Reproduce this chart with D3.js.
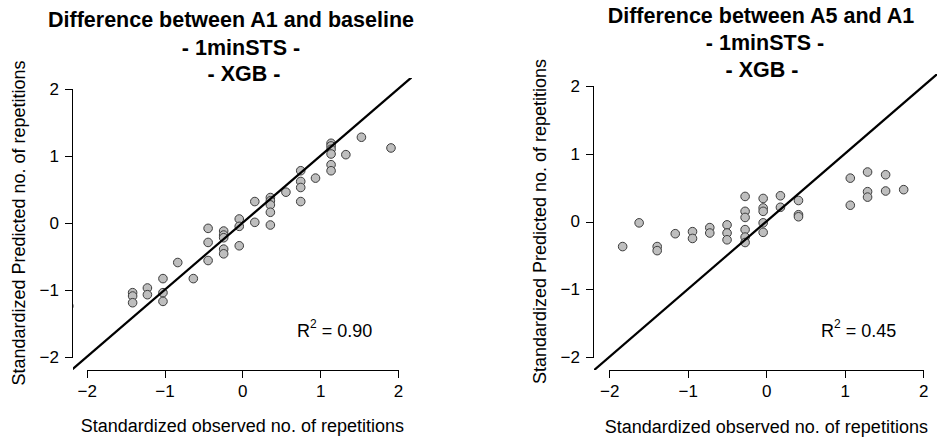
<!DOCTYPE html>
<meta charset="utf-8">
<style type="text/css">
  body {
    margin: 0;
    background: #fff;
    font-family: "Liberation Sans", Arial, sans-serif;
  }
  .axis path, .axis line {
    stroke: #000;
    stroke-width: 1px;
    shape-rendering: crispEdges;
  }
  .axis text {
    font-family: "Liberation Sans", Arial, sans-serif;
    font-size: 17px;
    fill: #000;
  }
</style>
<body>
</body>
<script src="https://cdn.jsdelivr.net/npm/d3@7"></script>
<script>
  // tick values shared by both panels
  var xTicks = [-2, -1, 0, 1, 2];
  var yTicks = [-2, -1, 0, 1, 2];

  // left panel: A1 vs baseline
  var leftTitle = ["Difference between A1 and baseline", "- 1minSTS -", "- XGB -"];
  var leftR2 = "0.90";
  var leftObs = [-1.41, -1.41, -1.41, -1.22, -1.22, -1.02, -1.02, -1.02, -0.83, -0.63,
    -0.44, -0.44, -0.44, -0.24, -0.24, -0.24, -0.24, -0.24, -0.04, -0.04,
    -0.04, 0.16, 0.16, 0.36, 0.36, 0.36, 0.36, 0.36, 0.56, 0.75,
    0.75, 0.75, 0.75, 0.94, 1.14, 1.14, 1.14, 1.14, 1.14, 1.14,
    1.33, 1.53, 1.91, -2.23];
  var leftPred = [-1.04, -1.09, -1.19, -0.97, -1.07, -0.83, -1.04, -1.17, -0.59, -0.83,
    -0.08, -0.29, -0.56, -0.12, -0.18, -0.22, -0.39, -0.46, 0.06, -0.05,
    -0.34, 0.32, 0.01, 0.38, 0.33, 0.27, 0.16, -0.03, 0.46, 0.78,
    0.62, 0.53, 0.32, 0.67, 1.19, 1.15, 1.10, 1.03, 0.87, 0.78,
    1.02, 1.28, 1.12, -1.24];

  // right panel: A5 vs A1
  var rightTitle = ["Difference between A5 and A1", "- 1minSTS -", "- XGB -"];
  var rightR2 = "0.45";
  var rightObs = [-1.83, -1.62, -1.39, -1.39, -1.16, -0.94, -0.94, -0.72, -0.72, -0.50,
    -0.50, -0.50, -0.27, -0.27, -0.27, -0.27, -0.27, -0.27, -0.04, -0.04,
    -0.04, -0.04, -0.04, 0.18, 0.18, 0.41, 0.41, 0.41, 1.07, 1.07,
    1.29, 1.29, 1.29, 1.52, 1.52, 1.75];
  var rightPred = [-0.37, -0.02, -0.37, -0.43, -0.18, -0.15, -0.25, -0.09, -0.17, -0.05,
    -0.17, -0.27, 0.37, 0.15, 0.06, -0.12, -0.23, -0.31, 0.34, 0.20,
    0.15, -0.02, -0.16, 0.38, 0.21, 0.31, 0.10, 0.07, 0.64, 0.24,
    0.73, 0.44, 0.36, 0.69, 0.45, 0.47];

  var xLabel = "Standardized observed no. of repetitions";
  var yLabel = "Standardized Predicted no. of repetitions";

  // layout of each panel (pixels)
  var panels = [{
      id: "left", title: leftTitle, r2: leftR2, obs: leftObs, pred: leftPred,
      xr: [86.7, 398], yr: [357, 89],
      region: { x0: 73, x1: 412, y0: 78, y1: 370 },
      titleX: [231, 241, 244], titleY: [27, 55, 81],
      ylabX: 25, xlabY: 432, r2X: 297, r2Y: 337
    },
    {
      id: "right", title: rightTitle, r2: rightR2, obs: rightObs, pred: rightPred,
      xr: [609.3, 923.3], yr: [357, 86],
      region: { x0: 594, x1: 937, y0: 74, y1: 370 },
      titleX: [761, 765, 762], titleY: [23, 50, 77],
      ylabX: 546, xlabY: 433, r2X: 821, r2Y: 337
    }
  ];

  var svg = d3.select("body")
    .append("svg")
    .attr("width", 937)
    .attr("height", 443);

  var defs = svg.append("defs");

  panels.forEach(function(p) {
    var x = d3.scaleLinear().domain([-2, 2]).range(p.xr);
    var y = d3.scaleLinear().domain([-2, 2]).range(p.yr);
    var r = p.region;

    defs.append("clipPath")
      .attr("id", "clip-" + p.id)
      .append("rect")
      .attr("x", r.x0)
      .attr("y", r.y0)
      .attr("width", r.x1 - r.x0)
      .attr("height", r.y1 - r.y0);

    var g = svg.append("g");

    // title, three lines
    g.selectAll(".title")
      .data(p.title)
      .enter().append("text")
      .attr("class", "title")
      .attr("x", function(d, i) { return p.titleX[i]; })
      .attr("y", function(d, i) { return p.titleY[i]; })
      .attr("text-anchor", "middle")
      .style("font-size", "21.5px")
      .style("font-weight", "bold")
      .text(function(d) { return d; });

    // axes
    g.append("g")
      .attr("class", "axis")
      .attr("transform", "translate(0," + r.y1 + ")")
      .call(d3.axisBottom(x).tickValues(xTicks).tickSize(8).tickSizeOuter(0).tickPadding(7)
        .tickFormat(d3.format("d")))
      .select(".domain").attr("d", "M" + x(-2) + ",0.5H" + x(2));

    g.append("g")
      .attr("class", "axis")
      .attr("transform", "translate(" + r.x0 + ",0)")
      .call(d3.axisLeft(y).tickValues(yTicks).tickSize(8).tickSizeOuter(0).tickPadding(6)
        .tickFormat(d3.format("d")))
      .select(".domain").attr("d", "M-0.5," + y(-2) + "V" + y(2));

    // axis labels
    g.append("text")
      .attr("x", (x(-2) + x(2)) / 2)
      .attr("y", p.xlabY)
      .attr("text-anchor", "middle")
      .style("font-size", "18px")
      .text(xLabel);

    g.append("text")
      .attr("transform", "translate(" + p.ylabX + "," + (y(0)) + ") rotate(-90)")
      .attr("text-anchor", "middle")
      .style("font-size", "18px")
      .text(yLabel);

    // plot content clipped to plot region
    var plot = g.append("g").attr("clip-path", "url(#clip-" + p.id + ")");

    var pts = p.obs.map(function(o, i) { return { o: o, p: p.pred[i] }; });

    plot.selectAll("circle")
      .data(pts)
      .enter().append("circle")
      .attr("cx", function(d) { return x(d.o); })
      .attr("cy", function(d) { return y(d.p); })
      .attr("r", 4.3)
      .style("fill", "#bebebe")
      .style("stroke", "#3c3c3c")
      .style("stroke-width", 1);

    // identity line y = x
    plot.append("path")
      .datum([-3, 3])
      .attr("d", d3.line()
        .x(function(v) { return x(v); })
        .y(function(v) { return y(v); }))
      .style("fill", "none")
      .style("stroke", "#000")
      .style("stroke-width", 2.2);

    // R squared annotation
    var t = g.append("text")
      .attr("x", p.r2X)
      .attr("y", p.r2Y)
      .style("font-size", "18px");
    t.append("tspan").text("R");
    t.append("tspan").attr("dy", -9).style("font-size", "12px").text("2");
    t.append("tspan").attr("dy", 9).text(" = " + p.r2);
  });
</script>
